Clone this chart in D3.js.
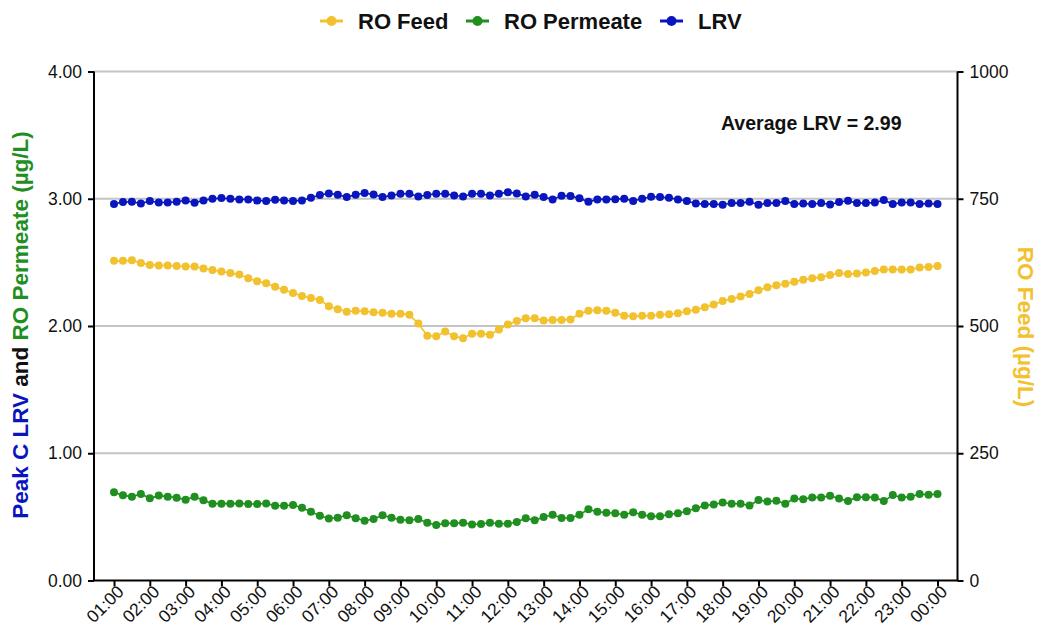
<!DOCTYPE html>
<html>
<head>
<meta charset="utf-8">
<script src="https://cdn.jsdelivr.net/npm/d3@7"></script>
<style>
  html, body { margin: 0; padding: 0; background: #fff; }
  svg { display: block; font-family: "Liberation Sans", Arial, sans-serif; }
</style>
</head>
<body>
<svg id="chart" width="1037" height="633"></svg>
<script>
// ---------------- DATA ----------------
const timeLabels = ["01:00","02:00","03:00","04:00","05:00","06:00","07:00","08:00","09:00","10:00","11:00","12:00",
  "13:00","14:00","15:00","16:00","17:00","18:00","19:00","20:00","21:00","22:00","23:00","00:00"];
const stepHours = 0.25; // samples every 15 minutes

const lrv = [2.958,2.974,2.976,2.963,2.982,2.971,2.971,2.976,2.987,2.969,
  2.987,3.000,3.005,3.000,2.995,2.995,2.987,2.982,2.992,2.987,
  2.982,2.987,3.008,3.029,3.042,3.031,3.013,3.031,3.045,3.034,
  3.013,3.026,3.039,3.039,3.018,3.029,3.039,3.039,3.026,3.018,
  3.039,3.039,3.026,3.039,3.052,3.042,3.018,3.031,3.013,2.995,
  3.024,3.021,3.003,2.976,2.995,2.995,2.997,3.000,2.982,3.000,
  3.016,3.013,3.008,2.995,2.982,2.963,2.958,2.958,2.953,2.966,
  2.966,2.976,2.953,2.966,2.966,2.982,2.958,2.963,2.958,2.966,
  2.955,2.974,2.984,2.966,2.966,2.971,2.990,2.958,2.971,2.971,
  2.958,2.963,2.958];

const roFeed = [628,628,629,624,620,619,619,618,617,617,
  613,610,607,604,601,594,588,584,577,571,
  565,559,555,551,539,533,528,530,529,527,
  526,524,524,522,505,481,480,489,480,476,
  485,485,483,493,503,510,515,515,511,512,
  512,513,524,530,531,530,526,520,519,520,
  520,522,523,525,529,532,537,542,549,553,
  558,563,570,576,580,583,587,591,594,596,
  600,604,602,603,605,608,611,611,611,611,
  615,616,618];

const roPermeate = [0.693,0.669,0.659,0.680,0.646,0.667,0.659,0.651,0.635,0.659,
  0.630,0.604,0.604,0.604,0.606,0.601,0.601,0.606,0.588,0.588,
  0.593,0.572,0.541,0.509,0.488,0.493,0.512,0.489,0.470,0.483,
  0.512,0.494,0.478,0.473,0.483,0.454,0.436,0.449,0.449,0.454,
  0.441,0.444,0.454,0.446,0.446,0.460,0.490,0.473,0.499,0.517,
  0.491,0.491,0.517,0.559,0.541,0.533,0.528,0.517,0.536,0.517,
  0.504,0.504,0.520,0.528,0.544,0.567,0.590,0.597,0.613,0.603,
  0.603,0.589,0.632,0.621,0.626,0.603,0.645,0.639,0.653,0.653,
  0.666,0.645,0.624,0.655,0.655,0.653,0.624,0.671,0.653,0.658,
  0.679,0.674,0.679];

const leftTicks = [0, 1, 2, 3, 4];
const rightTicks = [0, 250, 500, 750, 1000];
const seriesNames = ["RO Feed", "RO Permeate", "LRV"];
const averageLabel = "Average LRV = 2.99";

// ---------------- STYLE ----------------
const C_FEED = "#f2c12e", C_PERM = "#1f8f1f", C_LRV = "#0a16bd";
const FONT = "\"Liberation Sans\", Arial, sans-serif";

const svg = d3.select("#chart");
const plotL = 94, plotR = 957.5, plotT = 71.5, plotB = 580.5, padX = 20;

const x = d3.scaleLinear().domain([0, 23]).range([plotL + padX, plotR - padX]);
const yL = d3.scaleLinear().domain([0, 4]).range([plotB, plotT]);
const yR = d3.scaleLinear().domain([0, 1000]).range([plotB, plotT]);

// gridlines
svg.append("g").selectAll("line").data(leftTicks.filter(d => d > 0)).join("line")
  .attr("x1", plotL).attr("x2", plotR)
  .attr("y1", d => yL(d)).attr("y2", d => yL(d))
  .attr("stroke", "#c4c4c4").attr("stroke-width", 2);

// axes
const axL = svg.append("g").attr("transform", `translate(${plotL},0)`)
  .call(d3.axisLeft(yL).tickValues(leftTicks).tickFormat(d3.format(".2f")).tickSize(6).tickPadding(6));
const axR = svg.append("g").attr("transform", `translate(${plotR},0)`)
  .call(d3.axisRight(yR).tickValues(rightTicks).tickFormat(d3.format("d")).tickSize(6).tickPadding(6));
const axB = svg.append("g").attr("transform", `translate(0,${plotB})`)
  .call(d3.axisBottom(x).tickValues(d3.range(timeLabels.length)).tickFormat(i => timeLabels[i]).tickSize(6).tickPadding(4));
axB.select(".domain").remove();
svg.append("line").attr("x1", plotL - 1).attr("x2", plotR + 1).attr("y1", plotB).attr("y2", plotB)
  .attr("stroke", "#000").attr("stroke-width", 2);

[axL, axR, axB].forEach(g => {
  g.selectAll(".domain").attr("stroke", "#000").attr("stroke-width", 2);
  g.selectAll(".tick line").attr("stroke", "#000").attr("stroke-width", 2);
  g.selectAll(".tick text").attr("font-family", FONT).attr("font-size", 17.5).attr("fill", "#111");
});
axL.select(".domain").attr("d", `M0,${plotT}V${plotB}`);
axR.select(".domain").attr("d", `M0,${plotT}V${plotB}`);
axB.selectAll(".tick text")
  .attr("text-anchor", "end")
  .attr("dy", "0.35em")
  .attr("transform", "translate(6,8) rotate(-45)")
  .attr("x", 0).attr("y", 0);

// series
function drawSeries(values, yScale, color) {
  const pts = values.map((v, i) => [x(i * stepHours), yScale(v)]);
  const g = svg.append("g");
  g.append("path").attr("d", d3.line()(pts)).attr("fill", "none")
    .attr("stroke", color).attr("stroke-width", 1.6);
  g.selectAll("circle").data(pts).join("circle")
    .attr("cx", d => d[0]).attr("cy", d => d[1]).attr("r", 4).attr("fill", color);
}
drawSeries(roFeed, yR, C_FEED);
drawSeries(roPermeate, yL, C_PERM);
drawSeries(lrv, yL, C_LRV);

// legend
const legendColors = [C_FEED, C_PERM, C_LRV];
const legendX = [320, 466, 660];
const lg = svg.append("g");
seriesNames.forEach((name, i) => {
  const g = lg.append("g").attr("transform", `translate(${legendX[i]},21)`);
  g.append("line").attr("x1", 0).attr("x2", 23).attr("y1", 0).attr("y2", 0)
    .attr("stroke", legendColors[i]).attr("stroke-width", 3);
  g.append("circle").attr("cx", 11.5).attr("cy", 0).attr("r", 5).attr("fill", legendColors[i]);
  g.append("text").attr("x", 38).attr("y", 0).attr("dy", "0.36em")
    .attr("font-family", FONT).attr("font-weight", "bold").attr("font-size", 22)
    .attr("fill", "#111").text(name);
});

// annotation
svg.append("text").attr("x", 721).attr("y", 130)
  .attr("font-family", FONT).attr("font-weight", "bold").attr("font-size", 19.5)
  .attr("fill", "#111").text(averageLabel);

// left axis title (multi-coloured)
const lt = svg.append("text").attr("transform", "translate(28,325) rotate(-90)")
  .attr("text-anchor", "middle")
  .attr("font-family", FONT).attr("font-weight", "bold").attr("font-size", 22.5);
lt.append("tspan").attr("fill", C_LRV).text("Peak C LRV");
lt.append("tspan").attr("fill", "#111").text(" and ");
lt.append("tspan").attr("fill", C_PERM).text("RO Permeate (µg/L)");

// right axis title
svg.append("text").attr("transform", "translate(1018,327) rotate(90)")
  .attr("text-anchor", "middle")
  .attr("font-family", FONT).attr("font-weight", "bold").attr("font-size", 22.5)
  .attr("fill", C_FEED).text("RO Feed (µg/L)");
</script>
</body>
</html>
